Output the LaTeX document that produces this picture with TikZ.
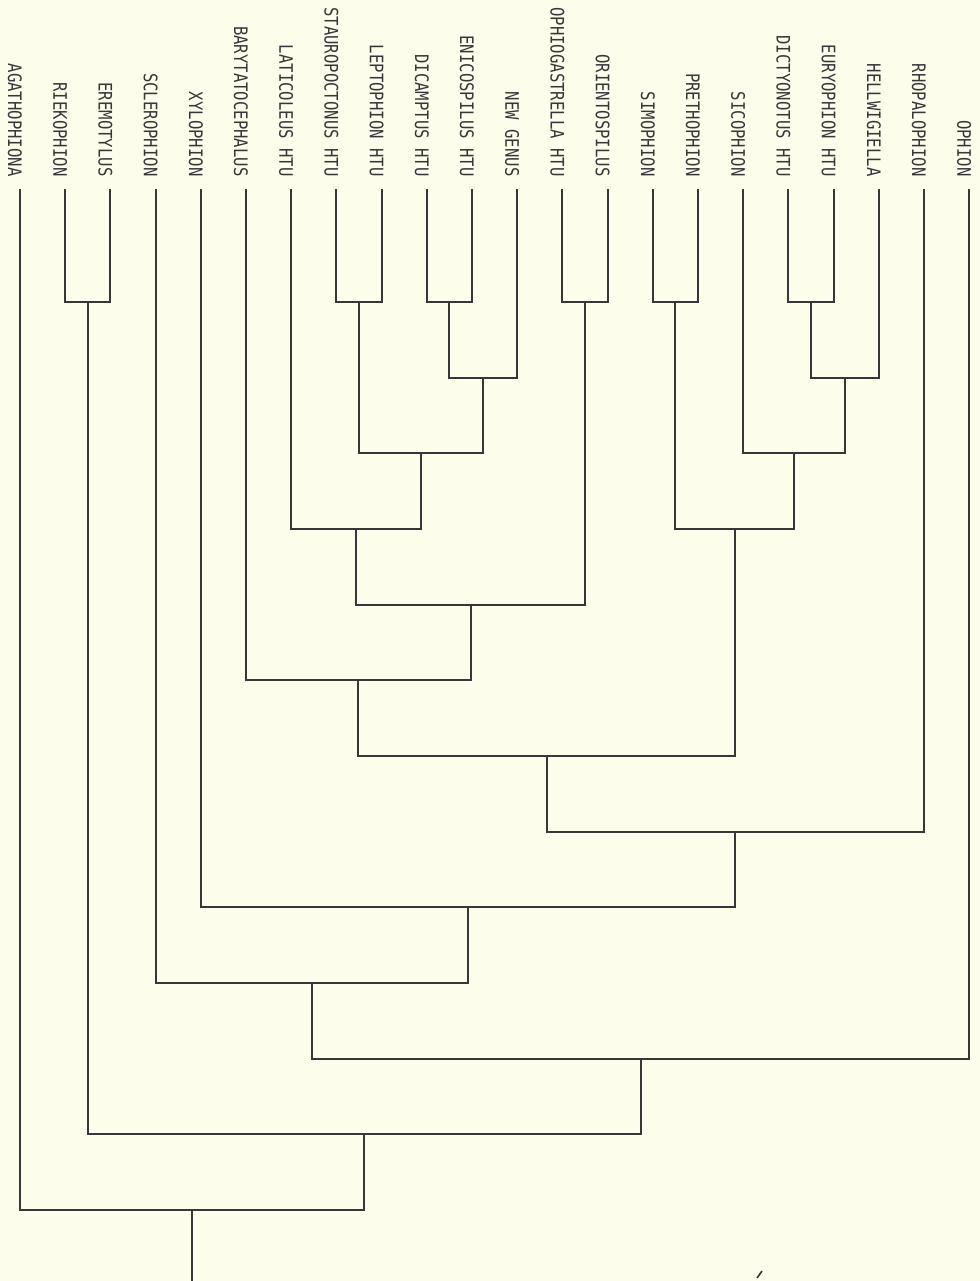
\documentclass[tikz,border=0pt]{standalone}
\usepackage{fontspec}
\usetikzlibrary{calc}
\newfontfamily\lblfont[FakeStretch=0.84]{DejaVu Sans Mono}
\definecolor{bg}{RGB}{253,253,236}
\definecolor{ink}{RGB}{55,55,58}
\newcommand\clade[4]{%
  \path ($(#2)!0.5!(#3)$) coordinate (m#1);
  \coordinate (#1) at (m#1 |- 0,#4);
  \draw[branch] (#2) |- (#1) -| (#3);
}
\begin{document}
\begin{tikzpicture}[x=0.5pt,y=-0.5pt,
  branch/.style={draw=ink, line width=1pt, line cap=rect},
  taxon/.style={font=\lblfont\fontsize{9.3}{10}\selectfont, text=ink, rotate=-90, anchor=east, inner sep=0pt}]
\fill[bg] (0,0) rectangle (980,1281);
\useasboundingbox (0,0) rectangle (980,1281);
\foreach \t [count=\i from 0] in {AGATHOPHIONA, RIEKOPHION, EREMOTYLUS, SCLEROPHION, XYLOPHION, BARYTATOCEPHALUS, LATICOLEUS HTU, STAUROPOCTONUS HTU, LEPTOPHION HTU, DICAMPTUS HTU, ENICOSPILUS HTU, NEW GENUS, OPHIOGASTRELLA HTU, ORIENTOSPILUS, SIMOPHION, PRETHOPHION, SICOPHION, DICTYONOTUS HTU, EURYOPHION HTU, HELLWIGIELLA, RHOPALOPHION, OPHION}{
  \coordinate (t\i) at ({20+45.2*\i},190);
  \node[taxon] (lab\i) at ({15+45.2*\i},177) {\t};
}
\def\lv#1{\fpeval{302+75.67*(#1-1)}}
\clade{c1}{t1}{t2}{\lv{1}}
\clade{c2}{t7}{t8}{\lv{1}}
\clade{c3}{t9}{t10}{\lv{1}}
\clade{c4}{t12}{t13}{\lv{1}}
\clade{c5}{t14}{t15}{\lv{1}}
\clade{c6}{t17}{t18}{\lv{1}}
\clade{c7}{c3}{t11}{\lv{2}}
\clade{c8}{c6}{t19}{\lv{2}}
\clade{c9}{c2}{c7}{\lv{3}}
\clade{c10}{t16}{c8}{\lv{3}}
\clade{c11}{t6}{c9}{\lv{4}}
\clade{c12}{c5}{c10}{\lv{4}}
\clade{c13}{c11}{c4}{\lv{5}}
\clade{c14}{t5}{c13}{\lv{6}}
\clade{c15}{c14}{c12}{\lv{7}}
\clade{c16}{c15}{t20}{\lv{8}}
\clade{c17}{t4}{c16}{\lv{9}}
\clade{c18}{t3}{c17}{\lv{10}}
\clade{c19}{c18}{t21}{\lv{11}}
\clade{c20}{c1}{c19}{\lv{12}}
\clade{c21}{t0}{c20}{\lv{13}}
\coordinate (rootend) at (c21 |- 0,1281);
\draw[branch] (c21) -- (rootend);
\draw[ink, line width=0.8pt] (757,1278) -- (762,1271);
\end{tikzpicture}
\end{document}
